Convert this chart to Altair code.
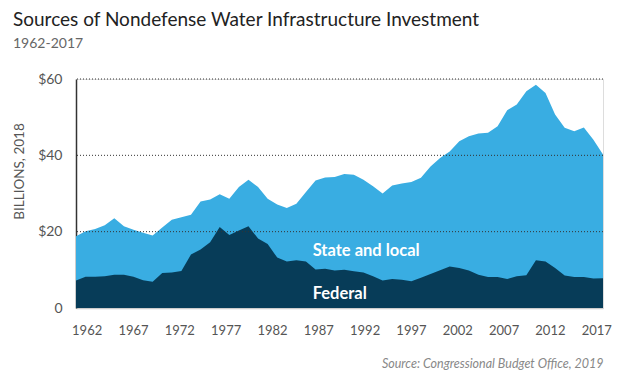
import altair as alt
import pandas as pd

years = list(range(1962, 2018))
total = [18.8, 20.1, 20.7, 21.7, 23.5, 21.4, 20.5, 19.7, 19.0, 21.1,
         23.1, 23.8, 24.4, 27.9, 28.4, 29.8, 28.6, 31.7, 33.6, 31.7,
         28.6, 27.1, 26.2, 27.3, 30.4, 33.4, 34.2, 34.3, 35.1, 34.9,
         33.6, 31.9, 30.0, 32.1, 32.6, 33.0, 34.1, 37.1, 39.3, 41.0,
         43.7, 45.0, 45.7, 45.9, 47.6, 51.8, 53.3, 56.8, 58.5, 56.3,
         50.7, 47.2, 46.3, 47.3, 44.1, 40.2]
federal = [7.2, 8.2, 8.2, 8.3, 8.7, 8.7, 8.2, 7.3, 6.9, 9.2,
           9.3, 9.7, 14.0, 15.3, 17.2, 21.2, 19.1, 20.3, 21.4, 18.2,
           16.8, 13.2, 12.2, 12.5, 12.2, 10.1, 10.3, 9.8, 10.0, 9.6,
           9.3, 8.3, 7.2, 7.6, 7.4, 7.0, 7.9, 8.9, 9.9, 10.9,
           10.5, 9.8, 8.7, 8.1, 8.1, 7.6, 8.3, 8.6, 12.5, 12.2,
           10.5, 8.5, 8.1, 8.1, 7.7, 7.8]
tick_years = [1962, 1967, 1972, 1977, 1982, 1987, 1992, 1997, 2002, 2007, 2012, 2017]
y_ticks = [0, 20, 40, 60]
grid_values = [20, 40, 60]
label_text = ["State and local", "Federal"]
label_year = [1986.7, 1986.7]
label_value = [15.0, 3.6]

df = pd.DataFrame({"year": years, "total": total, "federal": federal})
grid_df = pd.DataFrame({"v": grid_values})
lab_df = pd.DataFrame({"year": label_year, "value": label_value, "text": label_text})
tick_df = pd.DataFrame({"year": tick_years})

FONT = "Lato"
GRAY = "#555555"

x_scale = alt.Scale(domain=[1962, 2017], nice=False, zero=False)
# the year labels in the original sit on a slightly compressed scale
x_label_scale = alt.Scale(domain=[1960.85, 2017.73], nice=False, zero=False)
y_scale = alt.Scale(domain=[0, 60], nice=False)
x_axis = alt.Axis(values=tick_years, format="d", ticks=False, grid=False, orient="bottom",
                  domainColor="#cccccc", domainWidth=1.5,
                  labelFontSize=13, labelColor=GRAY, labelPadding=16, labelFont=FONT,
                  labelFlush=False,
                  title="Source: Congressional Budget Office, 2019",
                  titleAnchor="end", titleAlign="right", titleFontStyle="italic",
                  titleFontWeight="normal", titleFontSize=12.5, titleColor="#888888",
                  titleFont=FONT, titlePadding=20)
y_axis = alt.Axis(values=y_ticks, ticks=False, grid=False,
                  domainColor="#333333", domainWidth=1.5,
                  labelExpr="datum.value == 0 ? '0' : '$' + datum.value",
                  labelFontSize=14, labelColor=GRAY, labelPadding=14, labelFont=FONT,
                  title="BILLIONS, 2018", titleFontWeight="normal", titleFontSize=13.5,
                  titleColor=GRAY, titleFont=FONT,
                  titleX=-50, titleY=92, titleAngle=270, titleAlign="center",
                  titleBaseline="bottom")


def xe(field):
    return alt.X(field, type="quantitative", scale=x_scale, axis=None)


def ye(field):
    return alt.Y(field, type="quantitative", scale=y_scale, axis=y_axis)


state_area = alt.Chart(df).mark_area(color="#39ade2", opacity=1).encode(
    x=xe("year"), y=ye("total"))
fed_area = alt.Chart(df).mark_area(color="#073c58", opacity=1).encode(
    x=xe("year"), y=ye("federal"))
grid = alt.Chart(grid_df).mark_rule(color="#333333", strokeDash=[1, 2], strokeWidth=1).encode(
    y=ye("v"))
labels = alt.Chart(lab_df).mark_text(align="left", baseline="middle", color="white",
                                     fontSize=16.5, fontWeight="bold", font=FONT).encode(
    x=xe("year"), y=ye("value"), text="text")
axis_layer = alt.Chart(tick_df).mark_point(opacity=0).encode(
    x=alt.X("year", type="quantitative", scale=x_label_scale, axis=x_axis))

chart = alt.layer(state_area, fed_area, grid, labels, axis_layer).resolve_scale(
    x="independent"
).properties(
    width=527, height=229,
    autosize=alt.AutoSizeParams(type="none"),
    padding={"left": 76, "top": 79, "right": 14, "bottom": 67},
    title=alt.TitleParams(
        text="Sources of Nondefense Water Infrastructure Investment",
        subtitle="1962-2017",
        anchor="start", frame="group", dx=-63, offset=21,
        font=FONT, fontSize=19, fontWeight="normal", color="#222222",
        subtitleFont=FONT, subtitleFontSize=14, subtitleColor="#666666",
        subtitlePadding=7),
).configure_view(stroke=None).configure(background="white")

chart.save("out.html", embed_options={"renderer": "svg", "actions": False})
